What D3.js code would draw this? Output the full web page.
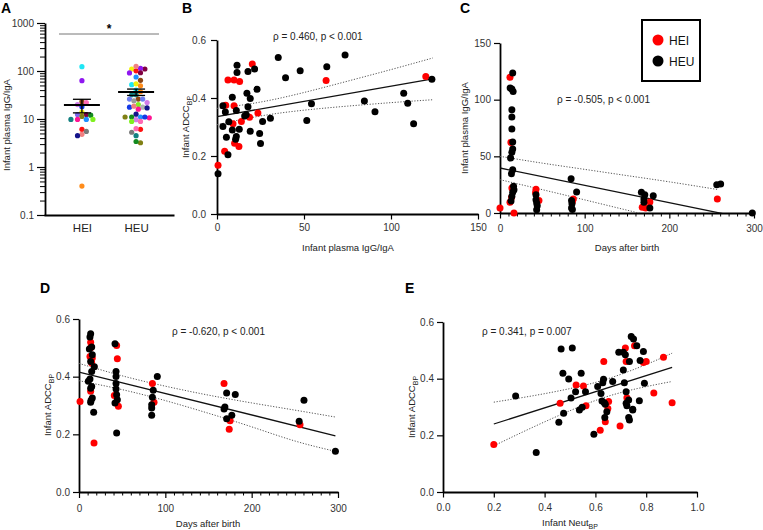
<!DOCTYPE html>
<html><head><meta charset="utf-8">
<script src="https://cdn.jsdelivr.net/npm/d3@7"></script>
<style>
body{margin:0;background:#fff;}
svg text{font-family:"Liberation Sans",Arial,Helvetica,sans-serif;}
</style></head><body>
<svg id="chart" width="763" height="530"></svg>
<script>
// ---------------- DATA ----------------
const groups = ["HEI", "HEU"];
const logTicks = [0.1, 1, 10, 100, 1000];
const logTickLabels = ["0.1", "1", "10", "100", "1000"];

// Panel A: infant plasma IgG/IgA by group (value, colour per infant)
const aHEI = [123, 63, 23, 22, 20, 18, 14, 12.4, 12.4, 12, 11.3, 9.8, 9.8, 9.8, 9.8, 6.1, 5.5, 4.8, 4.5, 0.4];
const aHEIcolors = ["#1ee6f5","#8f17f0","#8b4513","#ff69b4","#d37ce8","#1439e6","#f2f20d","#800040","#7b68ee","#138a1f","#808014","#1e90ff","#ff1493","#80f020","#128080","#ff1010","#7a7a7a","#f08080","#14148a","#ff8c1a"];
const aHEU = [110, 110, 101, 114, 125, 91, 92, 75, 64, 52, 54, 49, 40, 37, 32, 32, 26, 26, 26, 24, 22, 20, 17.6, 16, 17, 17.6, 18.5, 12.6, 11, 10.6, 11, 11, 11, 9.7, 8.9, 8.9, 6.1, 6.3, 5.3, 4.5, 3.2, 3.4];
const aHEUcolors = ["#f2f20d","#800040","#ff1010","#8f17f0","#f08080","#8f17f0","#800040","#1e90ff","#8b4513","#1ee6f5","#f2f20d","#ff8c1a","#1ee6f5","#ff8c1a","#128080","#128080","#8b4513","#6f7ff0","#6f7ff0","#9a9a9a","#d37ce8","#80f020","#b4b4b4","#ff1493","#14148a","#1439e6","#f08080","#14148a","#1e90ff","#ff1493","#138a1f","#1439e6","#808014","#d37ce8","#ff69b4","#80f020","#ff1010","#ff69b4","#7a7a7a","#128080","#808014","#138a1f"];

// Panel B: IgG/IgA (x) vs ADCC_BP (y)
const bHEU = [[0.6,0.139],[3.4,0.373],[4.8,0.352],[3.4,0.302],[5.4,0.265],[6.3,0.204],[6.8,0.318],[8.8,0.29],[8.8,0.403],[10.7,0.258],[11.1,0.267],[11.1,0.357],[11.5,0.513],[11.5,0.488],[12.8,0.292],[15.9,0.338],[16.8,0.342],[17.2,0.416],[17.8,0.370],[17.8,0.491],[19.1,0.398],[19.1,0.285],[21.6,0.500],[23,0.430],[24.5,0.278],[25,0.243],[26.2,0.319],[30.7,0.330],[35.2,0.540],[39.4,0.470],[47.8,0.494],[51.6,0.322],[54.3,0.380],[63.1,0.508],[73.6,0.548],[84.7,0.390],[90.8,0.353],[107.3,0.416],[109.6,0.382],[113,0.311],[123.5,0.465]];
const bHEI = [[0.6,0.168],[6.3,0.462],[9.8,0.462],[13,0.457],[5,0.375],[9.8,0.373],[4.4,0.216],[9.2,0.311],[10.1,0.244],[12.6,0.233],[14,0.319],[18.7,0.334],[20.3,0.517],[23.5,0.348],[62.7,0.46],[120,0.474]];
const bFit = [[0,0.336],[124,0.466]];
const bCiX = [0, 25, 50, 75, 100, 124];
const bCiLo = [0.308, 0.338, 0.358, 0.372, 0.384, 0.394];
const bCiHi = [0.364, 0.386, 0.419, 0.458, 0.498, 0.538];

// Panel C: days after birth vs IgG/IgA
const cHEU = [[15,123.5],[12,110.3],[14,109.4],[15.5,107.3],[14,91.1],[14,84.7],[14,74.1],[15,62.6],[15,56.5],[14,53.5],[12.5,48.5],[15,38.2],[13.5,34.7],[16,23.5],[16.5,20.6],[15,18.2],[14,14.7],[13,10.5],[42.5,16],[42.5,11.8],[43.3,8.8],[44,6.5],[43.3,2.9],[84,30.3],[90.5,18.5],[84.5,11],[85,8.2],[84.5,4.4],[85.5,3],[167,18.2],[171,16],[170,12.4],[170,9.4],[181,15.3],[177,4.4],[256,25],[260.6,25.6],[298,0]];
const cHEI = [[0,4.4],[11.8,119.7],[12.9,62.3],[14,22],[13.7,13.8],[11.8,9.4],[16.5,0],[42.5,21],[42,18],[46,11],[86.6,12.4],[85.5,10],[168,5],[172,4.5],[177,9.7],[256.7,12.4]];
const cFit = [[0,39.7],[298,-5.9]];
const cCiX = [0, 50, 100, 150, 200, 258];
const cCiLo = [29.4, 20.6, 11.6, 2.5, -7, -20];
const cCiHi = [50, 44, 38.5, 33, 27.5, 20.6];

// Panel D: days after birth vs ADCC_BP
const dHEU = [[13.5,0.549],[12.7,0.538],[12,0.496],[14.7,0.503],[15.4,0.476],[13.5,0.453],[17.8,0.434],[14.7,0.418],[12.7,0.392],[10.8,0.384],[14.7,0.366],[13.5,0.36],[15.4,0.326],[14,0.318],[13.5,0.311],[17,0.277],[41.7,0.514],[42.9,0.418],[42.9,0.401],[42.9,0.376],[42.9,0.357],[43.6,0.337],[41.7,0.309],[44.4,0.32],[43.6,0.205],[85,0.329],[90.7,0.401],[86,0.353],[84.2,0.303],[84.2,0.291],[84.2,0.266],[168,0.288],[169,0.295],[171,0.343],[181,0.338],[177,0.266],[171,0.254],[255,0.245],[260.6,0.318],[297,0.141]];
const dHEI = [[1.2,0.314],[13.5,0.519],[13.5,0.5],[12.7,0.47],[15.4,0.465],[14.7,0.447],[13.5,0.349],[17.4,0.170],[43.6,0.508],[44.4,0.462],[40.9,0.335],[45.6,0.297],[85,0.376],[86.9,0.311],[168,0.376],[175,0.247],[174,0.218],[256,0.233]];
const dFit = [[0,0.416],[297,0.195]];
const dCiX = [0, 50, 100, 150, 200, 250, 297];
const dCiLo = [0.386, 0.355, 0.317, 0.273, 0.226, 0.177, 0.141];
const dCiHi = [0.446, 0.403, 0.367, 0.336, 0.309, 0.284, 0.26];

// Panel E: Neut_BP vs ADCC_BP
const eHEU = [[0.286,0.339],[0.367,0.139],[0.465,0.505],[0.509,0.508],[0.472,0.419],[0.495,0.399],[0.544,0.419],[0.561,0.354],[0.522,0.354],[0.504,0.332],[0.475,0.278],[0.537,0.289],[0.548,0.299],[0.456,0.246],[0.594,0.204],[0.609,0.372],[0.629,0.386],[0.632,0.398],[0.622,0.348],[0.626,0.321],[0.635,0.315],[0.639,0.31],[0.645,0.283],[0.637,0.263],[0.668,0.39],[0.692,0.493],[0.71,0.493],[0.718,0.484],[0.741,0.549],[0.75,0.54],[0.763,0.516],[0.734,0.461],[0.71,0.431],[0.789,0.496],[0.776,0.464],[0.714,0.386],[0.721,0.354],[0.731,0.325],[0.724,0.304],[0.721,0.313],[0.747,0.292],[0.731,0.263],[0.734,0.254],[0.773,0.322],[0.793,0.384],[0.747,0.289]];
const eHEI = [[0.2,0.168],[0.461,0.313],[0.524,0.378],[0.553,0.374],[0.563,0.304],[0.652,0.319],[0.649,0.295],[0.633,0.461],[0.639,0.248],[0.619,0.218],[0.718,0.508],[0.721,0.461],[0.754,0.516],[0.8,0.461],[0.789,0.457],[0.724,0.333],[0.697,0.233],[0.83,0.349],[0.868,0.476],[0.902,0.315]];
const eFit = [[0.2,0.24],[0.902,0.44]];
const eCiX = [0.2, 0.35, 0.5, 0.65, 0.8, 0.902];
const eCiLo = [0.163, 0.227, 0.287, 0.338, 0.372, 0.39];
const eCiHi = [0.317, 0.339, 0.365, 0.400, 0.450, 0.49];

const statTexts = ["ρ = 0.460, p < 0.001", "ρ = -0.505, p < 0.001", "ρ = -0.620, p < 0.001", "ρ = 0.341, p = 0.007"];
const adccTicks = [0, 0.2, 0.4, 0.6];
const legendLabels = ["HEI", "HEU"];
const groupColors = {HEI: "#ff0000", HEU: "#000000"};

// ---------------- DRAW ----------------
const svg = d3.select("#chart");
const TICKFILL = "#333";

function styleAxis(g, sw) {
  g.select(".domain").attr("stroke", "#000").attr("stroke-width", sw || 1.8);
  g.selectAll(".tick line").attr("stroke", "#000").attr("stroke-width", 1.2);
  g.selectAll(".tick text").attr("fill", TICKFILL).style("font-size", "10px")
    .style("font-family", '"Liberation Sans", Arial, sans-serif');
}
function minorAxis(g, axisFn) {
  g.call(axisFn);
  g.select(".domain").remove();
  g.selectAll(".tick line").attr("stroke", "#000").attr("stroke-width", 1);
}
function letter(t, x, y) {
  svg.append("text").attr("x", x).attr("y", y).text(t)
    .style("font-size", "14px").style("font-weight", "bold").attr("fill", "#000");
}
function yTitle(x, y, main, sub) {
  const t = svg.append("text").attr("transform", `translate(${x},${y}) rotate(-90)`)
    .attr("text-anchor", "middle").style("font-size", "9.5px").attr("fill", "#222");
  t.append("tspan").text(main);
  if (sub) t.append("tspan").attr("dy", 2.5).style("font-size", "7px").text(sub);
}
function xTitle(x, y, main, sub) {
  const t = svg.append("text").attr("x", x).attr("y", y).attr("text-anchor", "middle")
    .style("font-size", "9.5px").attr("fill", "#222");
  t.append("tspan").text(main);
  if (sub) t.append("tspan").attr("dy", 2.5).style("font-size", "7px").text(sub);
}
function statText(x, y, s) {
  svg.append("text").attr("x", x).attr("y", y).text(s).style("font-size", "10px").attr("fill", "#222");
}

// ===== Panel A =====
letter("A", 1, 13);
const yA = d3.scaleLog().domain([0.1, 1000]).range([215, 23]);
const xA = d3.scalePoint().domain(groups).range([44, 174]).padding(0.7);
const minorA = [];
[0.1, 1, 10, 100].forEach(b => { for (let k = 2; k <= 9; k++) minorA.push(b * k); });
const gAyMin = svg.append("g").attr("transform", "translate(45,0)");
minorAxis(gAyMin, d3.axisLeft(yA).tickValues(minorA).tickFormat("").tickSize(5));
const gAy = svg.append("g").attr("transform", "translate(45,0)")
  .call(d3.axisLeft(yA).tickValues(logTicks).tickFormat((d, i) => logTickLabels[i]).tickSize(8).tickPadding(3).tickSizeOuter(0));
styleAxis(gAy);
const gAx = svg.append("g").attr("transform", "translate(0,215)")
  .call(d3.axisBottom(xA).tickSize(0).tickPadding(9).tickSizeOuter(0));
styleAxis(gAx);
gAx.selectAll(".tick text").style("font-size", "11.5px").attr("fill", "#222");
yTitle(10, 125, "Infant plasma IgG/IgA");

function swarm(vals, cx, r) {
  const order = vals.map((v, i) => i).sort((a, b) => vals[b] - vals[a]);
  const placed = [], out = new Array(vals.length);
  const dmin = 4.4, step = dmin / 2;
  order.forEach(i => {
    const py = yA(vals[i]);
    for (let k = 0; k < 60; k++) {
      const off = k === 0 ? 0 : (k % 2 ? 1 : -1) * Math.ceil(k / 2) * step;
      const px = cx + off;
      if (placed.every(p => Math.hypot(p[0] - px, p[1] - py) >= dmin)) {
        placed.push([px, py]); out[i] = [px, py]; break;
      }
    }
  });
  return out;
}
function drawGroupA(vals, cols, name) {
  const cx = xA(name);
  const pos = swarm(vals, cx, 2.5);
  svg.append("g").selectAll("circle").data(vals).join("circle")
    .attr("cx", (d, i) => pos[i][0]).attr("cy", (d, i) => pos[i][1]).attr("r", 2.6)
    .attr("fill", (d, i) => cols[i]);
  const m = d3.mean(vals), sem = d3.deviation(vals) / Math.sqrt(vals.length);
  const g = svg.append("g").attr("stroke", "#000");
  g.append("line").attr("x1", cx - 18).attr("x2", cx + 18).attr("y1", yA(m)).attr("y2", yA(m)).attr("stroke-width", 1.8);
  g.append("line").attr("x1", cx).attr("x2", cx).attr("y1", yA(m + sem)).attr("y2", yA(m - sem)).attr("stroke-width", 1.3);
  [m + sem, m - sem].forEach(v => g.append("line").attr("x1", cx - 9).attr("x2", cx + 9).attr("y1", yA(v)).attr("y2", yA(v)).attr("stroke-width", 1.3));
}
drawGroupA(aHEI, aHEIcolors, "HEI");
drawGroupA(aHEU, aHEUcolors, "HEU");
svg.append("line").attr("x1", 59).attr("x2", 159).attr("y1", 34).attr("y2", 34).attr("stroke", "#777").attr("stroke-width", 1);
svg.append("text").attr("x", 109).attr("y", 33).attr("text-anchor", "middle").text("*").style("font-size", "12px").style("font-weight", "bold");

// ===== generic scatter panel =====
function scatterPanel(o) {
  const x = d3.scaleLinear().domain(o.xd).range(o.xr);
  const y = d3.scaleLinear().domain(o.yd).range(o.yr);
  const id = "clip" + o.name;
  svg.append("clipPath").attr("id", id).append("rect")
    .attr("x", o.xr[0]).attr("y", o.yr[1]).attr("width", o.xr[1] - o.xr[0] + 2).attr("height", o.yr[0] - o.yr[1]);
  if (o.xMinor) {
    const g = svg.append("g").attr("transform", `translate(0,${o.yr[0]})`);
    minorAxis(g, d3.axisBottom(x).tickValues(o.xMinor).tickFormat("").tickSize(3.5));
  }
  const gx = svg.append("g").attr("transform", `translate(0,${o.yr[0]})`)
    .call(d3.axisBottom(x).tickValues(o.xt).tickFormat(o.xf).tickSize(o.xts || 5.5).tickPadding(o.xtp).tickSizeOuter(0));
  styleAxis(gx);
  const gy = svg.append("g").attr("transform", `translate(${o.xr[0]},0)`)
    .call(d3.axisLeft(y).tickValues(o.yt).tickFormat(o.yf).tickSize(6).tickPadding(o.ytp).tickSizeOuter(0));
  styleAxis(gy);

  const line = d3.line().x(d => x(d[0])).y(d => y(d[1]));
  const curve = d3.line().x(d => x(d[0])).y(d => y(d[1])).curve(d3.curveNatural);
  const lg = svg.append("g").attr("clip-path", `url(#${id})`).attr("fill", "none");
  lg.append("path").attr("d", curve(o.ciX.map((v, i) => [v, o.ciHi[i]]))).attr("stroke", "#555").attr("stroke-width", 1).attr("stroke-dasharray", "1.2,1.6");
  lg.append("path").attr("d", curve(o.ciX.map((v, i) => [v, o.ciLo[i]]))).attr("stroke", "#555").attr("stroke-width", 1).attr("stroke-dasharray", "1.2,1.6");
  lg.append("path").attr("d", line(o.fit)).attr("stroke", "#111").attr("stroke-width", 1.3);

  const pg = svg.append("g");
  pg.selectAll("circle.hei").data(o.hei).join("circle").attr("class", "hei")
    .attr("cx", d => x(d[0])).attr("cy", d => y(d[1])).attr("r", 3.5).attr("fill", groupColors.HEI);
  pg.selectAll("circle.heu").data(o.heu).join("circle").attr("class", "heu")
    .attr("cx", d => x(d[0])).attr("cy", d => y(d[1])).attr("r", 3.5).attr("fill", groupColors.HEU);
  return {x, y};
}
const f1 = d3.format(".1f");

// ===== Panel B =====
letter("B", 182, 13);
scatterPanel({name: "B", xd: [0, 150], xr: [217, 478], yd: [0, 0.6], yr: [214, 40],
  xt: [0, 50, 100, 150], xf: d3.format("d"), xtp: 4, yt: adccTicks, yf: f1, ytp: 5,
  hei: bHEI, heu: bHEU, fit: bFit, ciX: bCiX, ciLo: bCiLo, ciHi: bCiHi});
yTitle(189, 127, "Infant ADCC", "BP");
xTitle(348, 251, "Infant plasma IgG/IgA");
statText(273, 40, statTexts[0]);

// ===== Panel C =====
letter("C", 460, 13);
const minorDays = d3.range(0, 301, 10).filter(d => d % 100 !== 0);
scatterPanel({name: "C", xd: [0, 300], xr: [500, 754], yd: [0, 150], yr: [213, 43],
  xt: [0, 100, 200, 300], xf: d3.format("d"), xMinor: minorDays, xtp: 6, yt: [0, 50, 100, 150], yf: d3.format("d"), ytp: 3,
  hei: cHEI, heu: cHEU, fit: cFit, ciX: cCiX, ciLo: cCiLo, ciHi: cCiHi});
yTitle(468, 128, "Infant plasma IgG/IgA");
xTitle(627, 251, "Days after birth");
statText(557, 103, statTexts[1]);

// legend
const lgd = svg.append("g");
lgd.append("rect").attr("x", 642).attr("y", 20).attr("width", 58).attr("height", 61)
  .attr("fill", "#fff").attr("stroke", "#000").attr("stroke-width", 2);
legendLabels.forEach((l, i) => {
  lgd.append("circle").attr("cx", 658).attr("cy", 40 + i * 21).attr("r", 5.5).attr("fill", groupColors[l]);
  lgd.append("text").attr("x", 669).attr("y", 44.5 + i * 21).text(l).style("font-size", "12px").attr("fill", "#111");
});

// ===== Panel D =====
letter("D", 40, 293);
scatterPanel({name: "D", xd: [0, 300], xr: [79, 338], yd: [0, 0.6], yr: [492, 319],
  xt: [0, 100, 200, 300], xf: d3.format("d"), xMinor: minorDays, xts: 6, xtp: 7, yt: adccTicks, yf: f1, ytp: 3,
  hei: dHEI, heu: dHEU, fit: dFit, ciX: dCiX, ciLo: dCiLo, ciHi: dCiHi});
yTitle(51, 405, "Infant ADCC", "BP");
xTitle(208, 527, "Days after birth");
statText(172, 335, statTexts[2]);

// ===== Panel E =====
letter("E", 405, 293);
scatterPanel({name: "E", xd: [0, 1], xr: [443, 697], yd: [0, 0.6], yr: [492, 322],
  xt: [0, 0.2, 0.4, 0.6, 0.8, 1.0], xf: f1, xtp: 6, yt: adccTicks, yf: f1, ytp: 3,
  hei: eHEI, heu: eHEU, fit: eFit, ciX: eCiX, ciLo: eCiLo, ciHi: eCiHi});
yTitle(415, 407, "Infant ADCC", "BP");
xTitle(570, 526, "Infant Neut", "BP");
statText(482, 335, statTexts[3]);
</script>
</body></html>
